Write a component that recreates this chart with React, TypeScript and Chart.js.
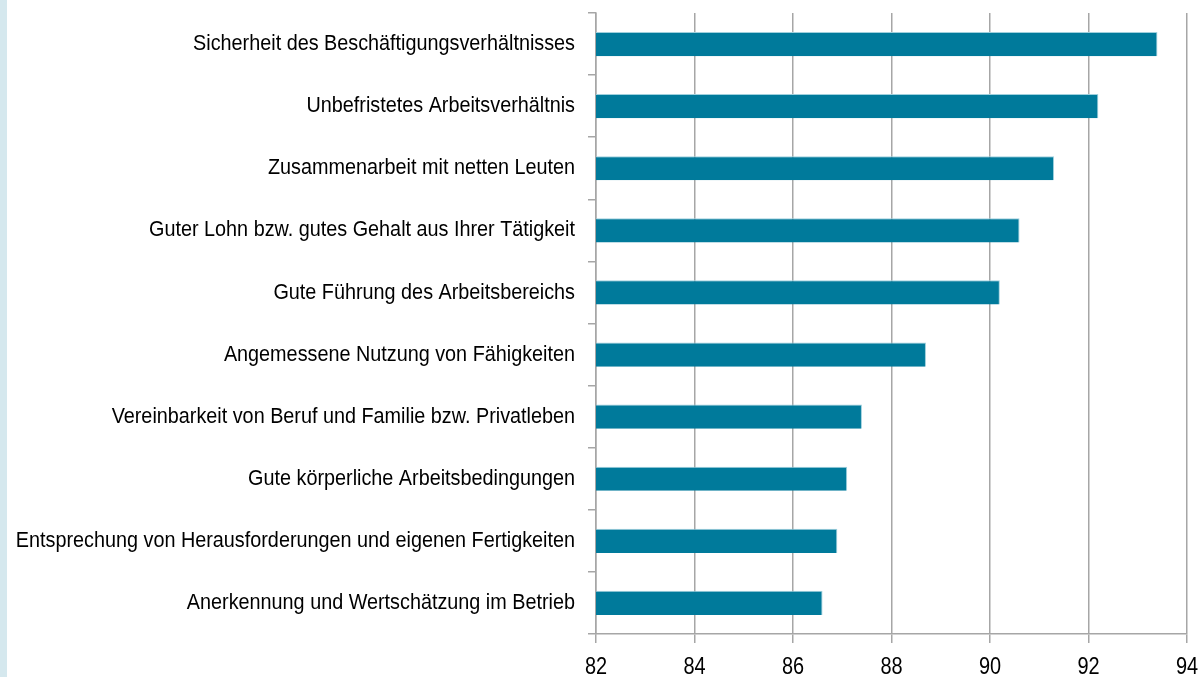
import React, { useEffect, useRef } from "react";
import { Chart, registerables } from "chart.js";

Chart.register(...registerables);

const categories = [
  "Sicherheit des Beschäftigungsverhältnisses",
  "Unbefristetes Arbeitsverhältnis",
  "Zusammenarbeit mit netten Leuten",
  "Guter Lohn bzw. gutes Gehalt aus Ihrer Tätigkeit",
  "Gute Führung des Arbeitsbereichs",
  "Angemessene Nutzung von Fähigkeiten",
  "Vereinbarkeit von Beruf und Familie bzw. Privatleben",
  "Gute körperliche Arbeitsbedingungen",
  "Entsprechung von Herausforderungen und eigenen Fertigkeiten",
  "Anerkennung und Wertschätzung im Betrieb",
];

const values = [93.4, 92.2, 91.3, 90.6, 90.2, 88.7, 87.4, 87.1, 86.9, 86.6];

const xMin = 82;
const xMax = 94;
const xStep = 2;

const FONT = "'Liberation Sans', Arial, sans-serif";

// Draws tick labels horizontally condensed (the source uses a narrow face).
const narrowLabels = {
  id: "narrowLabels",
  afterDraw(chart: any) {
    const ctx = chart.ctx;
    const y = chart.scales.y;
    const x = chart.scales.x;
    ctx.save();
    ctx.fillStyle = "#000";
    // category labels
    ctx.font = `22px ${FONT}`;
    ctx.textAlign = "right";
    ctx.textBaseline = "middle";
    const ySX = 0.9;
    y.ticks.forEach((_t: any, i: number) => {
      const py = y.getPixelForTick(i);
      const label = y.getLabelForValue(i);
      ctx.save();
      ctx.translate(y.right - 21, py);
      ctx.scale(ySX, 1);
      ctx.fillText(label, 0, 0);
      ctx.restore();
    });
    // value labels
    ctx.font = `24px ${FONT}`;
    ctx.textAlign = "center";
    ctx.textBaseline = "alphabetic";
    const xSX = 0.83;
    x.ticks.forEach((t: any) => {
      const px = x.getPixelForValue(t.value);
      ctx.save();
      ctx.translate(px, x.top + 40);
      ctx.scale(xSX, 1);
      ctx.fillText(String(t.value), 0, 0);
      ctx.restore();
    });
    ctx.restore();
  },
};

export default function App() {
  const ref = useRef<HTMLCanvasElement | null>(null);

  useEffect(() => {
    if (!ref.current) return;
    const chart = new Chart(ref.current, {
      type: "bar",
      data: {
        labels: categories,
        datasets: [
          {
            data: values,
            backgroundColor: "#007A9B",
            borderColor: "#9fd0dd",
            borderWidth: { top: 1, right: 1, bottom: 0, left: 0 },
            borderSkipped: false,
            barPercentage: 0.39,
            categoryPercentage: 1,
          },
        ],
      },
      options: {
        indexAxis: "y",
        animation: false,
        responsive: false,
        maintainAspectRatio: false,
        layout: { padding: { top: 13, right: 15, left: 0, bottom: 0 } },
        plugins: {
          legend: { display: false },
          tooltip: { enabled: false },
        },
        scales: {
          x: {
            min: xMin,
            max: xMax,
            ticks: {
              stepSize: xStep,
              display: false,
            },
            grid: {
              color: "#a6a6a6",
              lineWidth: 1.5,
              tickLength: 9,
              drawTicks: true,
            },
            border: { color: "#a6a6a6", width: 1.5 },
            afterFit: (s: any) => {
              s.height = 43;
            },
          },
          y: {
            ticks: { display: false },
            grid: {
              offset: true,
              drawOnChartArea: false,
              drawTicks: true,
              tickLength: 8,
              color: "#a6a6a6",
              lineWidth: 1.5,
            },
            border: { color: "#a6a6a6", width: 1.5 },
            afterFit: (s: any) => {
              s.width = 596;
            },
          },
        },
      },
      plugins: [narrowLabels],
    });
    return () => chart.destroy();
  }, []);

  return (
    <div
      style={{
        position: "fixed",
        left: 0,
        top: 0,
        width: 1202,
        height: 677,
        background: "#fff",
        overflow: "hidden",
      }}
    >
      <div
        style={{
          position: "absolute",
          left: 0,
          top: 0,
          width: 7,
          height: 677,
          background: "#d5e8ee",
        }}
      />
      <canvas
        ref={ref}
        width={1202}
        height={677}
        style={{ position: "absolute", left: 0, top: 0, width: 1202, height: 677 }}
      />
    </div>
  );
}
